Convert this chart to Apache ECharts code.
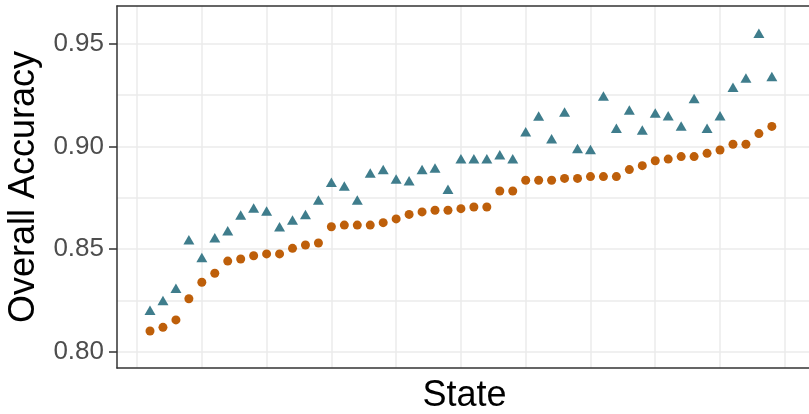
<!DOCTYPE html>
<html><head><meta charset="utf-8">
<script src="https://cdn.jsdelivr.net/npm/echarts@6/dist/echarts.min.js"></script>
<style>html,body{margin:0;padding:0;background:#fff}#c{width:809px;height:414px}</style>
</head><body><div id="c"></div>
<script>
// Rank of each state (sorted by the orange series)
const stateRank = Array.from({length: 49}, (_, i) => i + 1);
// Orange circles
const accuracyA = [
  0.8102, 0.8120, 0.8156, 0.8259, 0.8339, 0.8383, 0.8442, 0.8452, 0.8468, 0.8477,
  0.8477, 0.8504, 0.8520, 0.8530, 0.8609, 0.8617, 0.8617, 0.8617, 0.8629, 0.8647,
  0.8669, 0.8681, 0.8689, 0.8689, 0.8697, 0.8705, 0.8705, 0.8783, 0.8783, 0.8835,
  0.8835, 0.8835, 0.8844, 0.8844, 0.8853, 0.8853, 0.8853, 0.8887, 0.8906, 0.8930,
  0.8938, 0.8950, 0.8950, 0.8966, 0.8982, 0.9010, 0.9010, 0.9062, 0.9097
];
// Teal triangles
const accuracyB = [
  0.8203, 0.8251, 0.8310, 0.8546, 0.8460, 0.8556, 0.8590, 0.8666, 0.8700, 0.8686,
  0.8609, 0.8642, 0.8669, 0.8739, 0.8825, 0.8807, 0.8739, 0.8870, 0.8887, 0.8841,
  0.8833, 0.8887, 0.8895, 0.8791, 0.8940, 0.8940, 0.8940, 0.8959, 0.8940, 0.9071,
  0.9147, 0.9037, 0.9167, 0.8990, 0.8984, 0.9245, 0.9088, 0.9177, 0.9079, 0.9162,
  0.9149, 0.9099, 0.9232, 0.9088, 0.9149, 0.9287, 0.9332, 0.9550, 0.9340
];
const yTickLabels = [0.80, 0.85, 0.90, 0.95];

const FONT = 'Liberation Sans, Arial, sans-serif';
const GRID_COLOR = '#EBEBEB';
const BORDER = '#333333';
const yMin = 0.79222, yMax = 0.96823;
const xMin = -1.548, xMax = 52.1;

const chart = echarts.init(document.getElementById('c'), null, {renderer: 'canvas'});
chart.setOption({
  animation: false,
  backgroundColor: '#ffffff',
  grid: {left: 117, right: -3, top: 6, bottom: 46, containLabel: false, outerBoundsMode: 'none'},
  xAxis: [
    {
      type: 'value', position: 'bottom', min: xMin, max: xMax,
      minInterval: 5, maxInterval: 5, z: 1,
      axisLine: {show: true, lineStyle: {color: BORDER, width: 1.5}},
      axisTick: {show: false}, axisLabel: {show: false},
      splitLine: {show: true, showMinLine: false, showMaxLine: false, lineStyle: {color: GRID_COLOR, width: 1.5}},
      name: 'State', nameLocation: 'middle', nameGap: 10,
      nameTextStyle: {fontSize: 36, color: '#000', fontFamily: FONT}
    },
    {
      type: 'value', position: 'top', min: xMin, max: xMax, z: 3,
      axisLine: {show: true, onZero: false, lineStyle: {color: BORDER, width: 1.5}},
      axisTick: {show: false}, axisLabel: {show: false}, splitLine: {show: false}
    }
  ],
  yAxis: [
    {
      type: 'value', position: 'left', min: yMin, max: yMax, z: 3,
      axisLine: {show: true, onZero: false, lineStyle: {color: BORDER, width: 1.5}},
      axisTick: {show: true, length: 8, customValues: yTickLabels, lineStyle: {color: BORDER, width: 1.5}},
      axisLabel: {show: true, customValues: yTickLabels, margin: 13, fontSize: 26, color: '#4D4D4D', fontFamily: FONT,
        formatter: v => v.toFixed(2)},
      splitLine: {show: false},
      name: 'Overall Accuracy', nameLocation: 'middle', nameGap: 70, nameRotate: 90,
      nameTextStyle: {fontSize: 36, color: '#000', fontFamily: FONT}
    },
    {
      type: 'value', position: 'right', min: yMin, max: yMax, z: 0,
      minInterval: 0.025, maxInterval: 0.025,
      axisLine: {show: false}, axisTick: {show: false}, axisLabel: {show: false},
      splitLine: {show: true, showMinLine: false, showMaxLine: false, lineStyle: {color: GRID_COLOR, width: 1.5}}
    }
  ],
  series: [
    {
      name: 'Accuracy A', type: 'scatter', xAxisIndex: 0, yAxisIndex: 0,
      symbol: 'circle', symbolSize: 9,
      itemStyle: {color: '#BE5F0A', opacity: 1},
      data: stateRank.map((r, i) => [r, accuracyA[i]]), z: 4
    },
    {
      name: 'Accuracy B', type: 'scatter', xAxisIndex: 0, yAxisIndex: 0,
      symbol: 'triangle', symbolSize: [11, 9.5],
      itemStyle: {color: '#3F7D8C', opacity: 1},
      data: stateRank.map((r, i) => [r, accuracyB[i]]), z: 4
    }
  ]
});
</script>
</body></html>
